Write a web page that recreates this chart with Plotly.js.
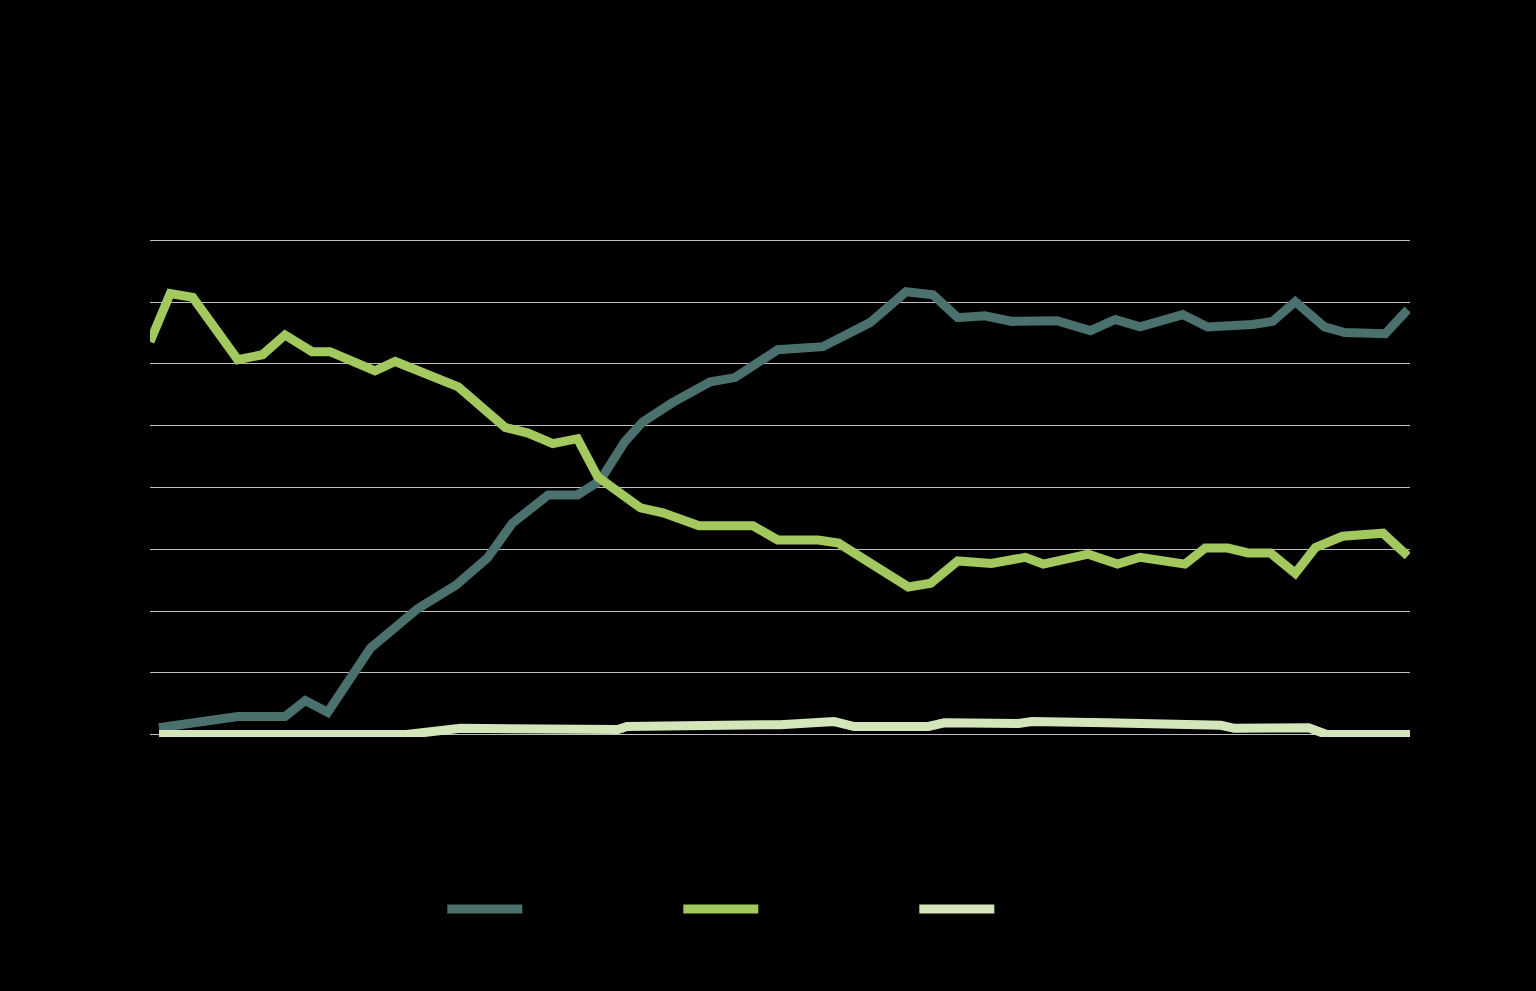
<!DOCTYPE html>
<html>
<head>
<meta charset="utf-8">
<script src="https://cdn.plot.ly/plotly-3.0.1.min.js"></script>
<style>
  html, body { margin: 0; padding: 0; background: #000000; }
  #chart { width: 1536px; height: 991px; }
</style>
</head>
<body>
<div id="chart"></div>
<script>
// Series names (text in the reference is black on black)
const seriesNames = ["Series A", "Series B", "Series C"];

// Series A (dark teal, rising)
const yearsA = [1960.4, 1963.9, 1966.0, 1966.9, 1967.9, 1969.8, 1971.9, 1973.6, 1975.0, 1976.1,
                1977.7, 1979.0, 1980.0, 1981.1, 1981.9, 1983.2, 1984.9, 1986.0, 1987.9, 1989.9,
                1992.0, 1993.6, 1994.8, 1995.9, 1997.1, 1998.3, 2000.3, 2001.8, 2002.9, 2004.0,
                2005.9, 2007.0, 2009.0, 2009.9, 2010.9, 2012.2, 2013.1, 2014.9, 2015.9];
const valuesA = [1.1, 2.9, 2.9, 5.5, 3.6, 14.0, 20.4, 24.2, 28.6, 34.2,
                 38.8, 38.8, 41.1, 47.4, 50.6, 53.7, 57.1, 57.8, 62.3, 62.8,
                 66.7, 71.7, 71.2, 67.5, 67.8, 66.9, 67.0, 65.4, 67.2, 66.0,
                 68.0, 66.0, 66.4, 66.9, 70.1, 66.0, 65.1, 64.9, 68.8];

// Series B (green, falling)
const yearsB = [1960.0, 1960.9, 1961.9, 1963.9, 1965.0, 1966.0, 1967.2, 1968.0, 1970.0, 1970.9,
                1973.7, 1975.8, 1976.8, 1977.9, 1979.0, 1979.9, 1981.8, 1982.8, 1984.4, 1986.8,
                1987.9, 1989.7, 1990.6, 1993.7, 1994.7, 1995.9, 1997.4, 1998.9, 1999.7, 2001.7,
                2003.0, 2004.0, 2006.0, 2006.9, 2007.9, 2008.8, 2009.8, 2010.9, 2011.8, 2013.0,
                2014.8, 2015.9];
const valuesB = [63.6, 71.4, 70.8, 60.7, 61.5, 64.7, 62.0, 62.0, 58.9, 60.4,
                 56.3, 49.7, 48.8, 47.1, 47.9, 41.7, 36.7, 35.9, 33.8, 33.8,
                 31.5, 31.5, 31.0, 23.9, 24.5, 28.1, 27.7, 28.7, 27.6, 29.2,
                 27.6, 28.7, 27.6, 30.2, 30.2, 29.4, 29.4, 26.1, 30.3, 32.1,
                 32.6, 28.9];

// Series C (pale green, near zero)
const yearsC = [1960.4, 1971.4, 1973.8, 1980.8, 1981.2, 1988.0, 1990.4, 1991.3, 1994.6, 1995.3,
                1998.6, 1999.2, 2002.5, 2007.6, 2008.2, 2011.5, 2012.3, 2016.0];
const valuesC = [0.0, 0.0, 1.0, 0.8, 1.3, 1.6, 2.1, 1.3, 1.3, 1.9,
                 1.8, 2.1, 1.9, 1.5, 1.0, 1.1, 0.0, 0.0];

// Axis ticks
const xTickYears = [1965, 1970, 1975, 1980, 1985, 1990, 1995, 2000, 2005, 2010, 2015];
const yTickValues = [0, 10, 20, 30, 40, 50, 60, 70, 80];

const colors = ["#4A716D", "#A3C95E", "#D2E6B9"];

const traces = [
  { x: yearsA, y: valuesA, name: seriesNames[0] },
  { x: yearsB, y: valuesB, name: seriesNames[1] },
  { x: yearsC, y: valuesC, name: seriesNames[2] }
].map((t, i) => Object.assign(t, {
  type: "scatter",
  mode: "lines",
  line: { color: colors[i], width: 9, shape: "linear" },
  hoverinfo: "x+y+name"
}));

const layout = {
  width: 1536,
  height: 991,
  paper_bgcolor: "#000000",
  plot_bgcolor: "#000000",
  margin: { l: 150, r: 126, t: 238, b: 254, pad: 0 },
  font: { family: "Liberation Sans, Arial, sans-serif", color: "#000000", size: 16 },
  showlegend: true,
  legend: {
    orientation: "h",
    x: 0.232,
    xanchor: "left",
    y: -0.345,
    yanchor: "middle",
    font: { color: "#000000", size: 16 },
    bgcolor: "rgba(0,0,0,0)",
    itemwidth: 75,
    entrywidth: 146,
    entrywidthmode: "pixels",
    traceorder: "normal"
  },
  xaxis: {
    range: [1960, 2016],
    showgrid: false,
    zeroline: false,
    showline: false,
    ticks: "",
    tickmode: "array",
    tickvals: xTickYears,
    ticktext: xTickYears.map(String),
    tickfont: { color: "#000000", size: 14 }
  },
  yaxis: {
    range: [-0.4, 80.4],
    tickmode: "array",
    tickvals: yTickValues,
    ticktext: yTickValues.map(String),
    showgrid: true,
    gridcolor: "#BFBFBF",
    gridwidth: 1,
    zeroline: false,
    showline: false,
    ticks: "",
    ticklabelstandoff: 6,
    tickfont: { color: "#000000", size: 14 }
  }
};

Plotly.newPlot("chart", traces, layout, { displayModeBar: false, staticPlot: true });
</script>
</body>
</html>
